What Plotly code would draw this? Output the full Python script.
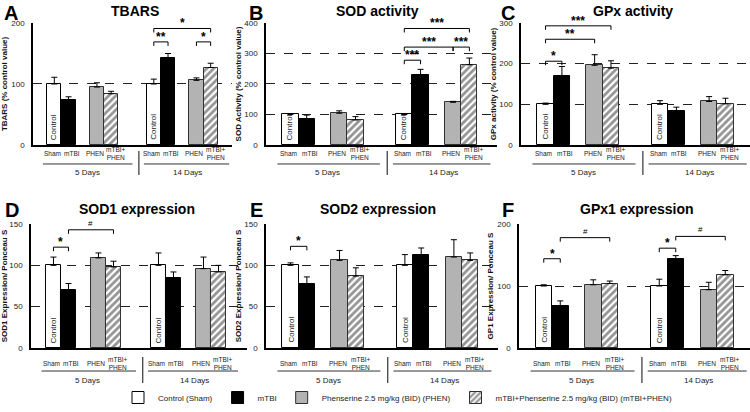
import plotly.graph_objects as go

# Bar order: Sham, mTBI, PHEN, mTBI+PHEN at 5 days, then the same at 14 days.
tbars_mean = [100, 73, 95, 84, 100, 143, 106, 127]
tbars_err = [11, 6, 7, 4, 8, 7, 4, 7]
sod_mean = [100, 85, 104, 82, 100, 231, 140, 263]
sod_err = [3, 13, 8, 11, 2, 17, 3, 22]
gpx_mean = [100, 169, 196, 189, 100, 84, 107, 101]
gpx_err = [3, 24, 26, 18, 9, 9, 12, 14]
sod1_mean = [100, 70, 109, 98, 100, 85, 96, 92]
sod1_err = [10, 8, 6, 7, 15, 7, 14, 8]
sod2_mean = [100, 78, 106, 87, 100, 112, 110, 106]
sod2_err = [3, 8, 12, 10, 13, 9, 21, 9]
gpx1_mean = [100, 68, 102, 104, 100, 143, 94, 118]
gpx1_err = [2, 8, 8, 4, 11, 6, 12, 7]

# significance brackets: (bar i, bar j, height, label)
tbars_sig = [(4, 5, 169, "**"), (6, 7, 169, "*"), (4, 7, 191, "*")]
sod_sig = [(4, 5, 278, "***"), (4, 6, 321, "***"), (6, 7, 321, "***"), (4, 7, 382, "***")]
gpx_sig = [(0, 1, 206, "*"), (0, 2, 260, "**"), (0, 3, 293, "***")]
sod1_sig = [(0, 1, 122, "*"), (1, 3, 143, "#")]
sod2_sig = [(0, 1, 123, "*")]
gpx1_sig = [(0, 1, 144, "*"), (1, 3, 178, "#"), (4, 5, 161, "*"), (5, 7, 180, "#")]

groups = ["Control (Sham)", "mTBI", "Phenserine 2.5 mg/kg (BID) (PHEN)",
          "mTBI+Phenserine 2.5 mg/kg (BID) (mTBI+PHEN)"]
bar_labels = ["Sham", "mTBI", "PHEN", "mTBI+<br>PHEN"]
label_shift = [-2, 3, -2, 5]
xpos = [1.5, 2.5, 4.5, 5.5, 8.5, 9.5, 11.5, 12.5]

panels = [
    dict(letter="A", title="TBARS", ytitle="TBARS (% control value)", mean=tbars_mean, err=tbars_err,
         sig=tbars_sig, ymax=200, dtick=100, xdom=[0.044, 0.3093], xmax=14.0, row=1),
    dict(letter="B", title="SOD activity", ytitle="SOD Activity (% control value)", mean=sod_mean, err=sod_err,
         sig=sod_sig, ymax=400, dtick=100, xdom=[0.3547, 0.6627], xmax=14.2, row=1),
    dict(letter="C", title="GPx activity", ytitle="GPx activity (% control value)", mean=gpx_mean, err=gpx_err,
         sig=gpx_sig, ymax=300, dtick=100, xdom=[0.6947, 1.0], xmax=14.0, row=1),
    dict(letter="D", title="SOD1 expression", ytitle="SOD1 Expression/ Ponceau S", mean=sod1_mean, err=sod1_err,
         sig=sod1_sig, ymax=150, dtick=50, xdom=[0.0413, 0.3293], xmax=14.4, row=2),
    dict(letter="E", title="SOD2 expression", ytitle="SOD2 Expression/ Ponceau S", mean=sod2_mean, err=sod2_err,
         sig=sod2_sig, ymax=150, dtick=50, xdom=[0.3547, 0.664], xmax=14.2, row=2),
    dict(letter="F", title="GPx1 expression", ytitle="GP1 Expression/ Ponceau S", mean=gpx1_mean, err=gpx1_err,
         sig=gpx1_sig, ymax=200, dtick=100, xdom=[0.692, 1.0], xmax=14.0, row=2),
]

row_dom = {1: [0.6481, 0.9442], 2: [0.1553, 0.4563]}
# pixel offsets below the axis: bar labels, group line, day label, separator
row_off = {1: (-9, -19, -28, -6, -30), 2: (-15, -23, -32, -9, -35)}

styles = [
    dict(color="white", line=dict(color="black", width=1)),
    dict(color="black", line=dict(color="black", width=1)),
    dict(color="#b3b3b3", line=dict(color="#303030", width=1)),
    dict(color="white", line=dict(color="#303030", width=1),
         pattern=dict(shape="/", fgcolor="#2a2a2a", bgcolor="white", size=5, solidity=0.55)),
]

fig = go.Figure()
shapes, annos = [], []
font = "Liberation Sans, Arial, sans-serif"

for k, p in enumerate(panels, start=1):
    xa = "x" if k == 1 else f"x{k}"
    ya = "y" if k == 1 else f"y{k}"
    for g in range(4):
        idx = [g, g + 4]
        fig.add_trace(go.Bar(
            x=[xpos[i] for i in idx], y=[p["mean"][i] for i in idx],
            error_y=dict(type="data", symmetric=False, array=[p["err"][i] for i in idx],
                         arrayminus=[0, 0], color="black", thickness=1, width=3),
            width=1, marker=styles[g], name=groups[g], legendgroup=groups[g],
            showlegend=(k == 1), xaxis=xa, yaxis=ya, hoverinfo="skip"))

    fig.layout[("xaxis" if k == 1 else f"xaxis{k}")] = dict(
        domain=p["xdom"], anchor=ya, range=[0, p["xmax"]], showticklabels=False, ticks="",
        showgrid=False, zeroline=False, showline=True, linecolor="black", linewidth=1.5,
        automargin=False)
    fig.layout[("yaxis" if k == 1 else f"yaxis{k}")] = dict(
        domain=row_dom[p["row"]], anchor=xa, range=[0, p["ymax"]], dtick=p["dtick"],
        showgrid=True, gridcolor="#222", griddash="dash", gridwidth=1, zeroline=False,
        showline=True, linecolor="black", linewidth=1.5, ticks="", ticklabelstandoff=5,
        tickfont=dict(size=8, color="#222"), automargin=False,
        title=dict(text=f"<b>{p['ytitle']}</b>", font=dict(size=8, color="#111"), standoff=2))

    lab, line_y, day_y, s0, s1 = row_off[p["row"]]
    xref = xa
    ydom = f"{ya} domain"
    # labels under bars
    for i in range(8):
        annos.append(dict(x=xpos[i], y=0, xref=xref, yref=ydom, yshift=lab,
                          xshift=label_shift[i % 4], text=bar_labels[i % 4],
                          showarrow=False, yanchor="middle", font=dict(size=6.5, color="#222")))
    # Control label inside sham bars
    for i in (0, 4):
        annos.append(dict(x=xpos[i], y=0, xref=xref, yref=ya, yshift=3, text="Control",
                          textangle=-90, showarrow=False, yanchor="bottom",
                          font=dict(size=8, color="#222")))
    for x0, x1, xt, txt in [(0.7, 7.0, 3.8, "5 Days"), (7.8, 13.8, 10.9, "14 Days")]:
        shapes.append(dict(type="line", xref=xref, yref=ydom, ysizemode="pixel", yanchor=0,
                           x0=x0, x1=x1, y0=line_y, y1=line_y, line=dict(color="#333", width=1)))
        annos.append(dict(x=xt, y=0, xref=xref, yref=ydom, yshift=day_y, text=txt,
                          showarrow=False, yanchor="middle", font=dict(size=8, color="#222")))
    shapes.append(dict(type="line", xref=xref, yref=ydom, ysizemode="pixel", yanchor=0,
                       x0=7.45, x1=7.45, y0=s0, y1=s1, line=dict(color="#333", width=1.2)))

    # significance brackets
    for i, j, h, txt in p["sig"]:
        shapes.append(dict(type="line", xref=xref, yref=ya, x0=xpos[i], x1=xpos[j], y0=h, y1=h,
                           line=dict(color="black", width=1)))
        for xi in (xpos[i], xpos[j]):
            shapes.append(dict(type="line", xref=xref, yref=ya, ysizemode="pixel", yanchor=h,
                               x0=xi, x1=xi, y0=0, y1=-4, line=dict(color="black", width=1)))
        star = txt.startswith("*")
        annos.append(dict(x=(xpos[i] + xpos[j]) / 2, y=h, xref=xref, yref=ya,
                          yshift=-4 if star else 0, text=f"<b>{txt}</b>" if star else txt,
                          showarrow=False, yanchor="bottom",
                          font=dict(size=12 if star else 8, color="black")))

# panel letters and titles
letter_pos = [(11, 0), (256, 0), (508, 0), (12, 197), (256, 197), (508, 197)]
title_pos = [(135, 11), (377, 11), (633, 11), (137, 209), (378, 209), (637, 209)]
for p, (lx, ly), (tx, ty) in zip(panels, letter_pos, title_pos):
    annos.append(dict(x=lx / 750, y=1 - ly / 412, xref="paper", yref="paper", text=f"<b>{p['letter']}</b>",
                      showarrow=False, xanchor="center", yanchor="top", font=dict(size=20, color="black")))
    annos.append(dict(x=tx / 750, y=1 - ty / 412, xref="paper", yref="paper", text=f"<b>{p['title']}</b>",
                      showarrow=False, xanchor="center", yanchor="middle", font=dict(size=14, color="black")))

fig.update_layout(
    width=750, height=412, margin=dict(l=0, r=0, t=0, b=0),
    paper_bgcolor="white", plot_bgcolor="white", barmode="overlay", bargap=0,
    font=dict(family=font, color="black"),
    shapes=shapes, annotations=annos,
    legend=dict(orientation="h", x=0.53, xanchor="center", y=0, yanchor="bottom",
                font=dict(size=8, color="#222"), itemwidth=30, tracegroupgap=0),
)

# the page body has a default 8px margin; remove it so the figure sits at the window corner
fig.write_html("out.html", config={"displayModeBar": False},
               post_script="document.body.style.margin='0';")
